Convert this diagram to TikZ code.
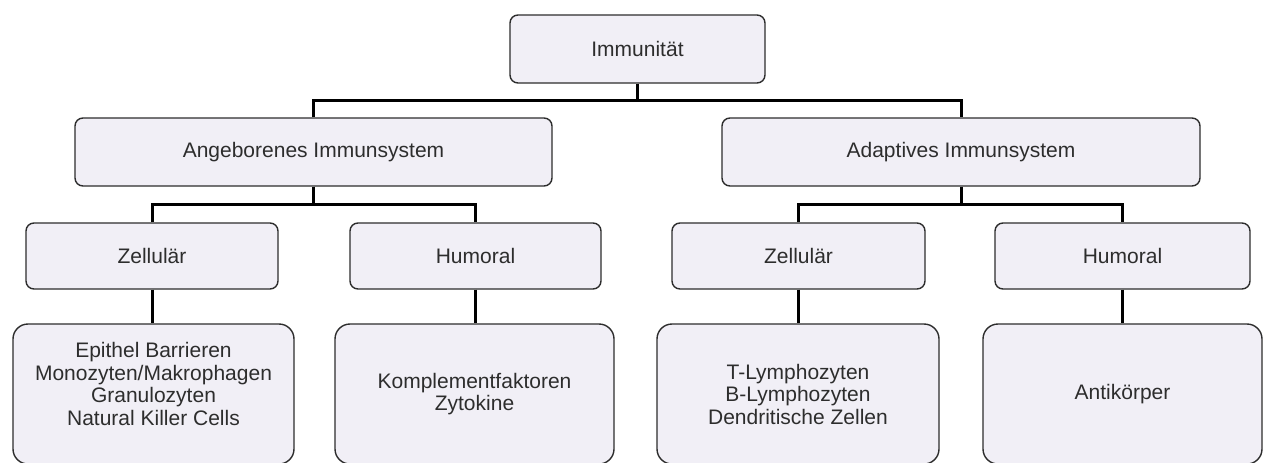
\documentclass[tikz,border=0pt]{standalone}
\usepackage{fontspec}
\setmainfont{Liberation Sans}
\definecolor{boxfill}{RGB}{241,239,246}
\definecolor{boxline}{RGB}{45,45,45}
\definecolor{txt}{RGB}{45,45,45}
\begin{document}
\begin{tikzpicture}[x=1pt,y=-1pt,
  box/.style={draw=boxline,line width=1.4pt,fill=boxfill,rounded corners=8pt,
    inner sep=0pt,align=center,text=txt,font=\fontsize{21}{22.5}\selectfont},
  bigbox/.style={box,rounded corners=15pt},
  lbl/.style={inner sep=0pt,align=center,text=txt,font=\fontsize{21}{22.5}\selectfont},
  conn/.style={line width=3pt,black}]
\useasboundingbox (0,0) rectangle (1264,463);
\fill[white] (0,0) rectangle (1264,463);
% level 0
\node[box,minimum width=255pt,minimum height=68pt] (imm) at (637.5,49) {Immunität};
% level 1
\node[box,minimum width=477pt,minimum height=68pt] (ang) at (313.5,152) {Angeborenes Immunsystem};
\node[box,minimum width=478pt,minimum height=68pt] (ada) at (961,152) {Adaptives Immunsystem};
% level 2
\node[box,minimum width=252pt,minimum height=66pt] (zl) at (152,256) {Zellulär};
\node[box,minimum width=251pt,minimum height=66pt] (hl) at (475.5,256) {Humoral};
\node[box,minimum width=253pt,minimum height=66pt] (zr) at (798.5,256) {Zellulär};
\node[box,minimum width=255pt,minimum height=66pt] (hr) at (1122.5,256) {Humoral};
% level 3
\node[bigbox,minimum width=281pt,minimum height=140pt] (bl) at (153.5,394) {};
\node[lbl] (blt) at (153.5,384) {Epithel Barrieren\\Monozyten/Makrophagen\\Granulozyten\\Natural Killer Cells};
\node[bigbox,minimum width=279pt,minimum height=140pt] (bk) at (474.5,394) {Komplementfaktoren\\Zytokine};
\node[bigbox,minimum width=282pt,minimum height=140pt] (bt) at (798,394) {T-Lymphozyten\\B-Lymphozyten\\Dendritische Zellen};
\node[bigbox,minimum width=279pt,minimum height=140pt] (ba) at (1122.5,394) {Antikörper};
% connectors
\coordinate (j0) at (637.5,100);
\draw[conn] (imm.south) -- (j0);
\draw[conn] (ang.north) |- (j0) -| (ada.north);
\coordinate (j1) at (313.5,204);
\draw[conn] (ang.south) -- (j1);
\draw[conn] (zl.north) |- (j1) -| (hl.north);
\coordinate (j2) at (961,204);
\draw[conn] (ada.south) -- (j2);
\draw[conn] (zr.north) |- (j2) -| (hr.north);
\draw[conn] (zl.south) -- (zl.south |- bl.north);
\draw[conn] (hl.south) -- (hl.south |- bk.north);
\draw[conn] (zr.south) -- (zr.south |- bt.north);
\draw[conn] (hr.south) -- (hr.south |- ba.north);
\end{tikzpicture}
\end{document}
